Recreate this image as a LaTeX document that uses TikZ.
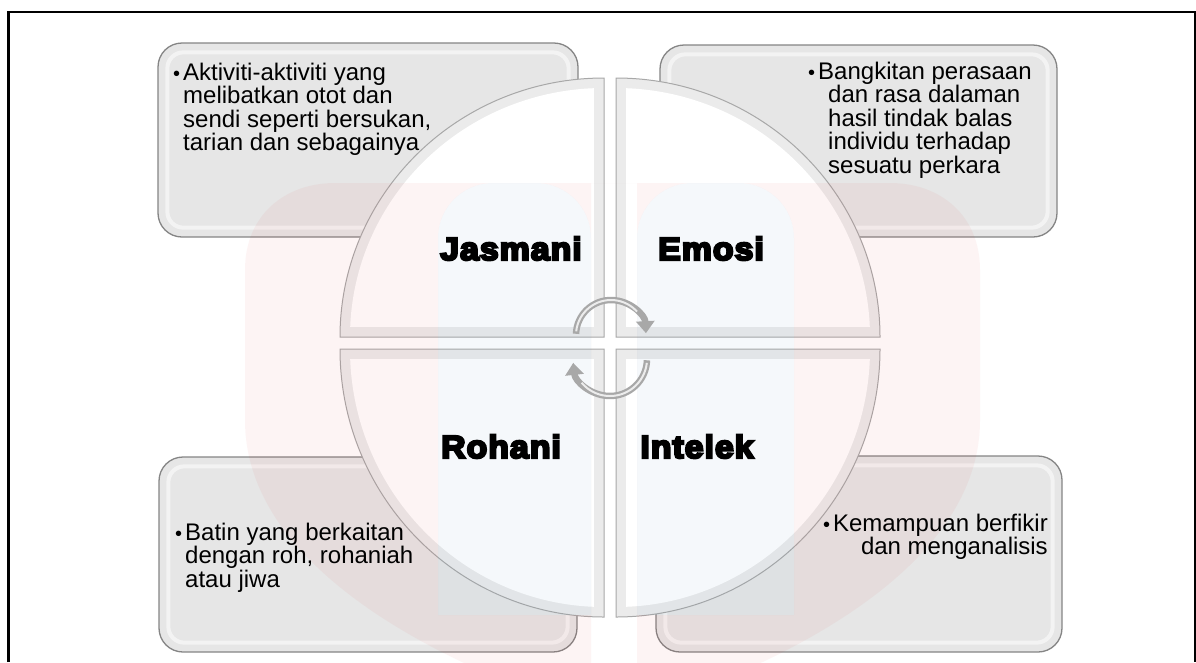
\documentclass[tikz,border=0pt]{standalone}
\usepackage{fontspec}
\setmainfont{Liberation Sans}
\newfontfamily\heavyfont{Liberation Sans Bold}[FakeBold=7,FakeStretch=1.06,LetterSpace=3]
\usetikzlibrary{arrows.meta,calc}
\definecolor{boxgray}{HTML}{E6E6E6}
\definecolor{boxedge}{HTML}{858585}
\definecolor{quadedge}{HTML}{A8A8A8}
\definecolor{bevel}{HTML}{EBEBEB}
\definecolor{arrowgray}{HTML}{A8A8A8}
\definecolor{wmpink}{HTML}{E03030}
\definecolor{wmblue}{HTML}{4A86B8}
\newcommand{\bul}{{\fontsize{20}{20}\selectfont\textbullet}}
\begin{document}
\begin{tikzpicture}[x=1pt,y=-1pt,
  box/.style={draw=boxedge, line width=1.3pt, fill=boxgray, rounded corners=24pt, inner sep=0pt},
  hilite/.style={draw=white, line width=4pt, opacity=.55, rounded corners=16pt},
  txt/.style={inner sep=0pt, font=\fontsize{24}{23.6}\selectfont},
  lab/.style={inner sep=0pt, font=\heavyfont\fontsize{32}{32}\selectfont},
  quad/.style={draw=quadedge, line width=1pt, fill=bevel},
  cyc/.style={draw=arrowgray, line width=6.5pt, -{Triangle[length=12pt,width=18pt]}},
  cychi/.style={draw=white!85!gray, line width=2pt}
]
\useasboundingbox (0,0) rectangle (1196,662);
\fill[white] (0,0) rectangle (1196,662);

% frame
\draw[line width=2.2pt] (8.5,662) -- (8.5,12) -- (1195,12) -- (1195,662);

% boxes
\node[box, minimum width=420pt, minimum height=194pt] (tl) at (368,140) {};
\node[box, minimum width=397pt, minimum height=192pt] (tr) at (858.5,141) {};
\node[box, minimum width=418pt, minimum height=195pt] (bl) at (368,554.5) {};
\node[box, minimum width=406pt, minimum height=196pt] (br) at (859,554) {};
\foreach \b in {tl,tr,bl,br}
  \draw[hilite] ($(\b.north west)+(10,10)$) rectangle ($(\b.south east)+(-10,-10)$);

% quadrants
\draw[quad] (604,337) -- (340,337) arc[start angle=180,end angle=270,x radius=264,y radius=259] -- cycle;
\begin{scope}\clip (604,337) ellipse[x radius=254,y radius=249];
  \fill[white] (330,70) rectangle (594,327);\end{scope}
\draw[quad] (616,337) -- (616,78) arc[start angle=270,end angle=360,x radius=264,y radius=259] -- cycle;
\begin{scope}\clip (616,337) ellipse[x radius=254,y radius=249];
  \fill[white] (626,70) rectangle (890,327);\end{scope}
\draw[quad] (604,349) -- (604,617) arc[start angle=90,end angle=180,x radius=264,y radius=268] -- cycle;
\begin{scope}\clip (604,349) ellipse[x radius=254,y radius=258];
  \fill[white] (330,359) rectangle (594,630);\end{scope}
\draw[quad] (616,349) -- (880,349) arc[start angle=0,end angle=90,x radius=264,y radius=268] -- cycle;
\begin{scope}\clip (616,349) ellipse[x radius=254,y radius=258];
  \fill[white] (626,359) rectangle (890,630);\end{scope}

% watermark
\begin{scope}
\clip (0,0) rectangle (1196,662);
\fill[wmpink, opacity=.05, even odd rule]
  (612,720) .. controls (420,660) and (245,560) .. (245,420) -- (245,270)
  .. controls (245,215) and (285,183) .. (335,183) -- (890,183)
  .. controls (940,183) and (980,215) .. (980,270) -- (980,420)
  .. controls (980,560) and (805,660) .. (612,720) -- cycle
  (438,615) -- (438,238) arc[start angle=180,end angle=270,radius=55] -- (536,183)
  arc[start angle=270,end angle=360,radius=55] -- (591,615) -- cycle
  (637,615) -- (637,238) arc[start angle=180,end angle=270,radius=55] -- (739,183)
  arc[start angle=270,end angle=360,radius=55] -- (794,615) -- cycle
  (591,183) rectangle (637,720);
\fill[wmblue, opacity=.05]
  (438,615) -- (438,238) arc[start angle=180,end angle=270,radius=55] -- (536,183)
  arc[start angle=270,end angle=360,radius=55] -- (591,615) -- cycle
  (637,615) -- (637,238) arc[start angle=180,end angle=270,radius=55] -- (739,183)
  arc[start angle=270,end angle=360,radius=55] -- (794,615) -- cycle;
\end{scope}

% cycle arrows
\draw[cyc] (611,335) ++(182:35) arc[start angle=182,end angle=357,radius=35];
\draw[cychi] (611,335) ++(186:35) arc[start angle=186,end angle=318,radius=35];
\draw[cyc] (610,359) ++(2:37) arc[start angle=2,end angle=174,radius=37];
\draw[cychi] (610,359) ++(6:37) arc[start angle=6,end angle=140,radius=37];

% labels
\node[lab, anchor=base] (jas) at (511,260) {Jasmani};
\node[lab, anchor=base] (emo) at (711,260) {Emosi};
\node[lab, anchor=base] (roh) at (501,458) {Rohani};
\node[lab, anchor=base] (int) at (697,458) {Intelek};

% texts (base anchor = baseline of last line)
\node[txt, anchor=base west, align=left] (tltext) at (183,150.8)
  {\llap{\bul\hspace{3pt}}Aktiviti-aktiviti yang\\melibatkan otot dan\\sendi seperti bersukan,\\tarian dan sebagainya};
\node[txt, anchor=base west, align=left] (trtext) at (828,173.4)
  {\hspace*{-10pt}\llap{\bul\hspace{3pt}}Bangkitan perasaan\\dan rasa dalaman\\hasil tindak balas\\individu terhadap\\sesuatu perkara};
\node[txt, anchor=base west, align=left] (bltext) at (185,587.2)
  {\llap{\bul\hspace{3pt}}Batin yang berkaitan\\dengan roh, rohaniah\\atau jiwa};
\node[txt, anchor=base east, align=right] (brtext) at (1048,554.6)
  {\llap{\bul\hspace{3pt}}Kemampuan berfikir\\dan menganalisis};
\end{tikzpicture}
\end{document}
